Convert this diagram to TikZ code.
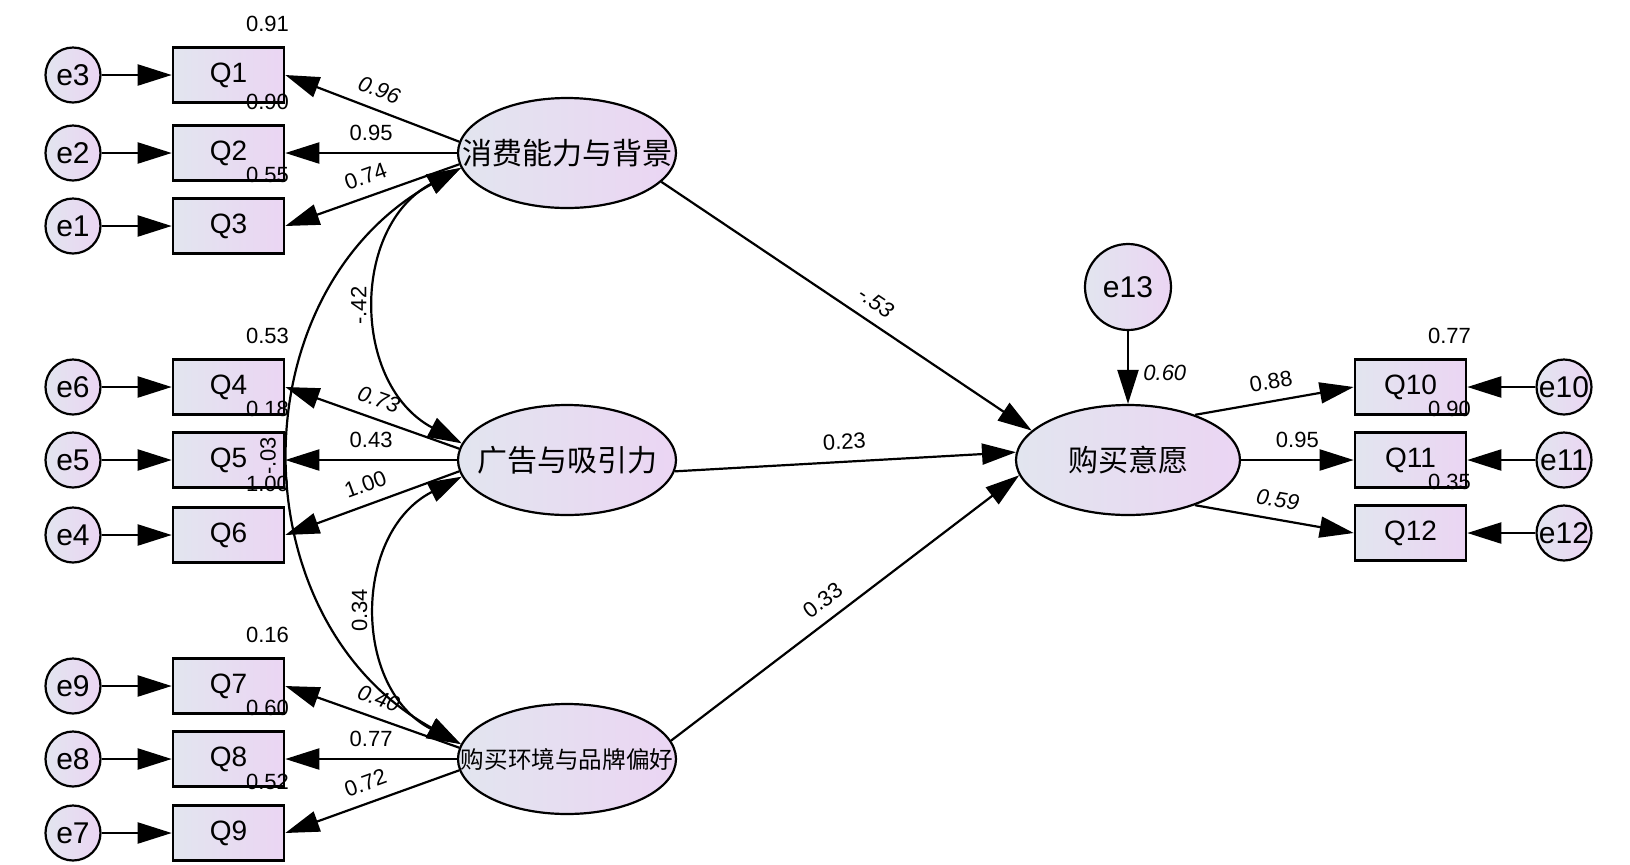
\documentclass[tikz,border=0pt]{standalone}
\usepackage{fontspec}
\setmainfont{Liberation Sans}
\newfontfamily\cjk{Noto Sans CJK SC}
\usetikzlibrary{arrows.meta}
\usetikzlibrary{shapes.geometric}
\definecolor{fillL}{RGB}{226,229,239}
\definecolor{fillR}{RGB}{235,213,243}
\tikzset{obs/.style={rectangle, draw, line width=1.3pt, left color=fillL, right color=fillR,
   minimum width=55.5pt, minimum height=27.5pt, inner sep=0pt, font=\fontsize{14}{14}\selectfont}}
\tikzset{err/.style={circle, draw, line width=1.1pt, left color=fillL, right color=fillR,
   minimum size=27.5pt, inner sep=0pt, font=\fontsize{15}{15}\selectfont}}
\tikzset{lat/.style={ellipse, draw, line width=1.1pt, left color=fillL, right color=fillR,
   minimum width=109pt, minimum height=55pt, inner sep=0pt}}
\tikzset{cn/.style={font=\cjk\fontsize{15}{15}\selectfont, inner sep=0pt}}
\tikzset{reg/.style={line width=1.1pt, -{Triangle[length=17pt,width=10.5pt]}}}
\tikzset{cov/.style={line width=1.1pt, {Triangle[length=17pt,width=10.5pt]}-{Triangle[length=17pt,width=10.5pt]}}}
\tikzset{est/.style={midway, sloped, above, inner sep=5.5pt, font=\fontsize{11}{11}\selectfont}}
\tikzset{esti/.style={est, font=\fontsize{11}{11}\selectfont\itshape}}
\tikzset{covl/.style={midway, rotate=90, anchor=south, inner sep=5.5pt, font=\fontsize{11}{11}\selectfont}}
\tikzset{smc/.style={anchor=south east, inner sep=0pt, xshift=2pt, yshift=7pt, font=\fontsize{11}{11}\selectfont}}

\begin{document}
\begin{tikzpicture}[x=0.5pt, y=-0.5pt]
  \useasboundingbox (0,0) rectangle (1630,864);

    \node[lat, label={[cn]center:消费能力与背景}] (L1) at (567,153) {};
    \node[lat, label={[cn]center:广告与吸引力}] (L2) at (567,460) {};
    \node[lat, label={[cn, font=\cjk\fontsize{11.8}{11.8}\selectfont]center:购买环境与品牌偏好}] (L3) at (567,759) {};
    \node[lat, minimum width=112pt, label={[cn]center:购买意愿}] (L4) at (1128,460) {};
    \node[err, minimum size=43pt] (e13) at (1128,287) {e13};

    \node[obs] (Q1) at (228.5,75) {Q1};
    \node[obs] (Q2) at (228.5,153) {Q2};
    \node[obs] (Q3) at (228.5,226) {Q3};
    \node[obs] (Q4) at (228.5,387) {Q4};
    \node[obs] (Q5) at (228.5,460) {Q5};
    \node[obs] (Q6) at (228.5,535) {Q6};
    \node[obs] (Q7) at (228.5,686) {Q7};
    \node[obs] (Q8) at (228.5,759) {Q8};
    \node[obs] (Q9) at (228.5,833) {Q9};
    \node[obs] (Q10) at (1410.5,387) {Q10};
    \node[obs] (Q11) at (1410.5,460) {Q11};
    \node[obs] (Q12) at (1410.5,533) {Q12};

    \node[err] (e3) at (73,75) {e3};
    \node[err] (e2) at (73,153) {e2};
    \node[err] (e1) at (73,226) {e1};
    \node[err] (e6) at (73,387) {e6};
    \node[err] (e5) at (73,460) {e5};
    \node[err] (e4) at (73,535) {e4};
    \node[err] (e9) at (73,686) {e9};
    \node[err] (e8) at (73,759) {e8};
    \node[err] (e7) at (73,833) {e7};
    \node[err] (e10) at (1564,387) {e10};
    \node[err] (e11) at (1564,460) {e11};
    \node[err] (e12) at (1564,533) {e12};

    \node[smc] at (Q1.north east) {0.91};
    \node[smc] at (Q2.north east) {0.90};
    \node[smc] at (Q3.north east) {0.55};
    \node[smc] at (Q4.north east) {0.53};
    \node[smc] at (Q5.north east) {0.18};
    \node[smc] at (Q6.north east) {1.00};
    \node[smc] at (Q7.north east) {0.16};
    \node[smc] at (Q8.north east) {0.60};
    \node[smc] at (Q9.north east) {0.52};
    \node[smc] at (Q10.north east) {0.77};
    \node[smc] at (Q11.north east) {0.90};
    \node[smc] at (Q12.north east) {0.35};
    \node[smc, anchor=south west, xshift=5.5pt, yshift=4.5pt, font=\fontsize{11}{11}\selectfont\itshape] at (L4.north) {0.60};

    \draw[reg] (e3) -- (Q1);
    \draw[reg] (e2) -- (Q2);
    \draw[reg] (e1) -- (Q3);
    \draw[reg] (e6) -- (Q4);
    \draw[reg] (e5) -- (Q5);
    \draw[reg] (e4) -- (Q6);
    \draw[reg] (e9) -- (Q7);
    \draw[reg] (e8) -- (Q8);
    \draw[reg] (e7) -- (Q9);
    \draw[reg] (e10) -- (Q10);
    \draw[reg] (e11) -- (Q11);
    \draw[reg] (e12) -- (Q12);
    \draw[reg] (e13) -- (L4);

    \draw[reg] (L1.174) -- (Q1.east) node[esti] {0.96};
    \draw[reg] (L1.west) -- (Q2.east) node[est] {0.95};
    \draw[reg] (L1.186) -- (Q3.east) node[est] {0.74};
    \draw[reg] (L2.174) -- (Q4.east) node[esti] {0.73};
    \draw[reg] (L2.west) -- (Q5.east) node[est] {0.43};
    \draw[reg] (L2.186) -- (Q6.east) node[est] {1.00};
    \draw[reg] (L3.174) -- (Q7.east) node[esti] {0.40};
    \draw[reg] (L3.west) -- (Q8.east) node[est] {0.77};
    \draw[reg] (L3.186) -- (Q9.east) node[est] {0.72};

    \draw[reg] (L1.343) -- (L4.163) node[esti, pos=0.55] {-.53};
    \draw[reg] (L2.-6) -- (L4.176) node[est] {0.23};
    \draw[reg] (L3.10) -- (L4.188) node[est, pos=0.47] {0.33};

    \draw[reg] (L4.34) -- (Q10.west) node[est] {0.88};
    \draw[reg] (L4.east) -- (Q11.west) node[est] {0.95};
    \draw[reg] (L4.-34) -- (Q12.west) node[esti] {0.59};

    \draw[cov] (L3.172) to[out=151, in=209, looseness=1.14] node[covl, inner sep=8pt] {-.03} (L1.188);
    \draw[cov] (L2.171) to[out=152, in=208, looseness=1.16] node[covl] {-.42} (L1.188);
    \draw[cov] (L3.172) to[out=153, in=207, looseness=1.17] node[covl] {0.34} (L2.189);

  \end{tikzpicture}
\end{document}
